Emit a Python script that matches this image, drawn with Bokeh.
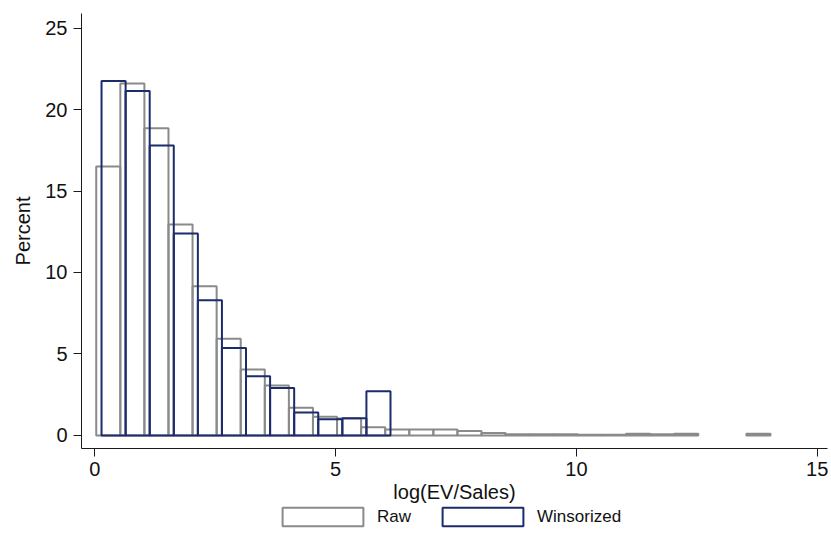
from bokeh.plotting import figure
from bokeh.layouts import column
from bokeh.models import Range1d, Legend, LegendItem, ColumnDataSource, FixedTicker
from bokeh.embed import file_html
from bokeh.resources import INLINE

# ---- data ----
raw_bin_lo = [0.03, 0.53, 1.03, 1.53, 2.03, 2.53, 3.03, 3.53, 4.03, 4.53,
              5.03, 5.53, 6.03, 6.53, 7.03, 7.53, 8.03, 8.53, 9.03, 9.53,
              10.03, 10.53, 11.03, 11.53, 12.03, 12.53, 13.03, 13.53]
raw_bin_hi = [0.53, 1.03, 1.53, 2.03, 2.53, 3.03, 3.53, 4.03, 4.53, 5.03,
              5.53, 6.03, 6.53, 7.03, 7.53, 8.03, 8.53, 9.03, 9.53, 10.03,
              10.53, 11.03, 11.53, 12.03, 12.53, 13.03, 13.53, 14.03]
raw_pct = [16.5, 21.6, 18.85, 12.94, 9.15, 5.93, 4.05, 3.06, 1.7, 1.15,
           1.05, 0.5, 0.37, 0.37, 0.37, 0.27, 0.15, 0.08, 0.08, 0.08,
           0.05, 0.05, 0.1, 0.08, 0.1, 0.0, 0.0, 0.1]

win_bin_lo = [0.14, 0.64, 1.14, 1.64, 2.14, 2.64, 3.14, 3.64, 4.14, 4.64, 5.14, 5.64]
win_bin_hi = [0.64, 1.14, 1.64, 2.14, 2.64, 3.14, 3.64, 4.14, 4.64, 5.14, 5.64, 6.14]
win_pct = [21.75, 21.14, 17.79, 12.39, 8.3, 5.37, 3.64, 2.92, 1.41, 1.0, 1.06, 2.72]

x_ticks = [0, 5, 10, 15]
y_ticks = [0, 5, 10, 15, 20, 25]
series_names = ["Raw", "Winsorized"]

RAW_COLOR = "#8a8a8a"
WIN_COLOR = "#1c2b6c"
FONT = "Liberation Sans"

def nonzero(lo, hi, h):
    keep = [i for i in range(len(h)) if h[i] > 0]
    return ColumnDataSource(dict(left=[lo[i] for i in keep],
                                 right=[hi[i] for i in keep],
                                 top=[h[i] for i in keep],
                                 bottom=[0] * len(keep)))

raw_src = nonzero(raw_bin_lo, raw_bin_hi, raw_pct)
win_src = nonzero(win_bin_lo, win_bin_hi, win_pct)

p = figure(width=830, height=505,
           x_range=Range1d(-0.276, 15.214), y_range=Range1d(-0.798, 25.89),
           output_backend="svg", toolbar_location=None,
           min_border_left=81, min_border_top=13, min_border_right=3,
           min_border_bottom=57, background_fill_color="white",
           border_fill_color="white")
p.outline_line_color = None
p.grid.visible = False

p.quad(source=raw_src, left="left", right="right", top="top", bottom="bottom",
       fill_color=None, line_color=RAW_COLOR, line_width=2)
p.quad(source=win_src, left="left", right="right", top="top", bottom="bottom",
       fill_color=None, line_color=WIN_COLOR, line_width=2)

for ax in (p.xaxis[0], p.yaxis[0]):
    ax.axis_line_color = "#1a1a1a"
    ax.axis_line_width = 1
    ax.major_tick_line_color = "#1a1a1a"
    ax.major_tick_out = 8
    ax.major_tick_in = 0
    ax.minor_tick_line_color = None
    ax.major_label_text_font = FONT
    ax.major_label_text_font_size = "20px"
    ax.major_label_text_color = "#111111"
    ax.axis_label_text_font = FONT
    ax.axis_label_text_font_size = "20px"
    ax.axis_label_text_font_style = "normal"
    ax.axis_label_text_color = "#111111"

p.xaxis[0].ticker = FixedTicker(ticks=x_ticks)
p.yaxis[0].ticker = FixedTicker(ticks=y_ticks)
p.xaxis[0].axis_label = "log(EV/Sales)"
p.yaxis[0].axis_label = "Percent"
p.yaxis[0].major_label_orientation = "horizontal"
p.xaxis[0].major_label_standoff = 5
p.yaxis[0].major_label_standoff = 6
p.xaxis[0].axis_label_standoff = 2
p.yaxis[0].axis_label_standoff = 8

# ---- legend strip below the chart (same series styling) ----
lf = figure(width=830, height=30, x_range=Range1d(100, 101), y_range=Range1d(100, 101),
            output_backend="svg", toolbar_location=None, min_border=0,
            x_axis_location=None, y_axis_location=None,
            background_fill_color="white", border_fill_color="white")
lf.outline_line_color = None
lf.grid.visible = False
lr_raw = lf.quad(source=raw_src, left="left", right="right", top="top", bottom="bottom",
                 fill_color=None, line_color=RAW_COLOR, line_width=2)
lr_win = lf.quad(source=win_src, left="left", right="right", top="top", bottom="bottom",
                 fill_color=None, line_color=WIN_COLOR, line_width=2)

legend = Legend(items=[LegendItem(label=series_names[0], renderers=[lr_raw]),
                       LegendItem(label=series_names[1], renderers=[lr_win])],
                orientation="horizontal", location=(191, 7),
                glyph_width=101, glyph_height=23, label_standoff=4,
                spacing=21, padding=0, margin=0, label_height=23,
                label_text_font=FONT, label_text_font_size="17px",
                label_text_color="#111111",
                border_line_color=None, background_fill_alpha=0)
lf.add_layout(legend, "center")

open("out.html", "w").write(file_html(column(p, lf, spacing=0), INLINE))
